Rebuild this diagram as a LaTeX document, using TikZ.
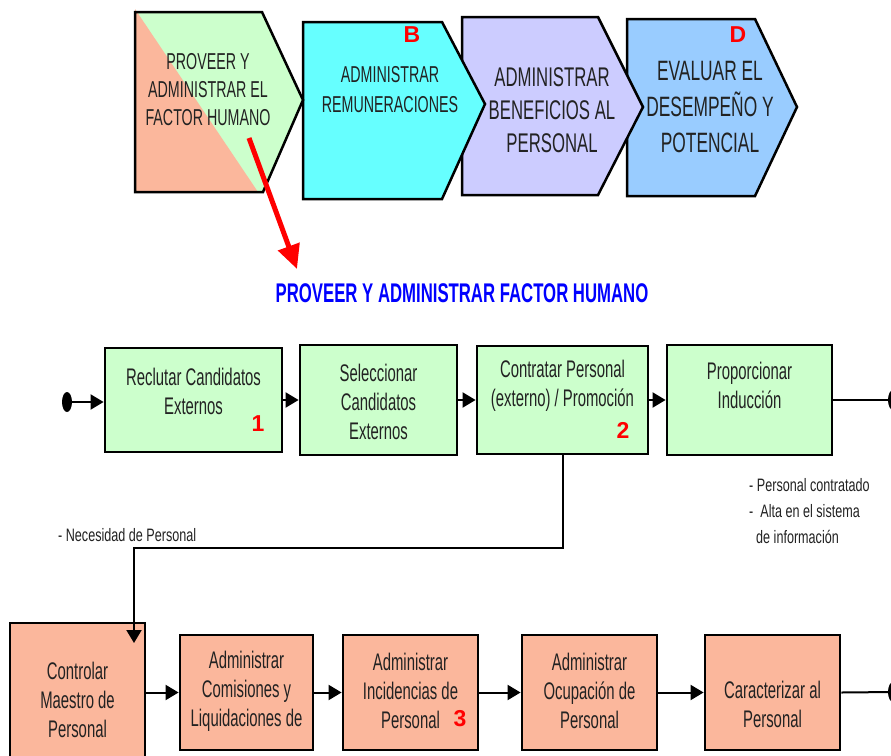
\documentclass[tikz,border=0pt]{standalone}
\usepackage{fontspec}
\setmainfont{Liberation Sans}
\newfontfamily\nfont[FakeStretch=0.62]{Liberation Sans}
\newfontfamily\notefont[FakeStretch=0.7]{Liberation Sans}
\usetikzlibrary{arrows.meta,shapes.geometric}
\definecolor{paleGreen}{HTML}{CCFFCC}
\definecolor{salmon}{HTML}{FBB79C}
\definecolor{aqua}{HTML}{66FFFF}
\definecolor{lavender}{HTML}{CCCCFF}
\definecolor{skyBlue}{HTML}{99CCFF}
\definecolor{inkGray}{HTML}{222222}
\tikzset{
  chev/.style={draw=black, line width=2.5pt, line join=miter},
  proc/.style={draw=black, line width=2.8pt, rectangle, inner sep=0pt},
  greenbox/.style={proc, fill=paleGreen},
  orangebox/.style={proc, fill=salmon},
  boxtext/.style={align=center, text=inkGray, inner sep=0pt,
    font=\nfont\fontsize{24}{29}\selectfont},
  notetext/.style={align=left, text=inkGray, inner sep=0pt,
    font=\notefont\fontsize{18}{26}\selectfont},
  tag/.style={text=red, inner sep=0pt, font=\bfseries\fontsize{23}{23}\selectfont},
  flow/.style={draw=black, line width=2pt, -{Triangle[length=13pt,width=15pt]}},
  plainflow/.style={draw=black, line width=2pt},
  terminal/.style={ellipse, fill=black, minimum width=10pt, minimum height=20pt, inner sep=0pt}
}
\begin{document}
\begin{tikzpicture}[x=1pt,y=-1pt]
\useasboundingbox (0,0) rectangle (891,755);
\fill[white] (0,0) rectangle (891,755);

% ---- value chain chevrons (drawn back to front) ----
\filldraw[chev, fill=skyBlue] (627,19) -- (755,19) -- (797,107) -- (755,196) -- (627,196) -- cycle;
\filldraw[chev, fill=lavender] (462,17) -- (598,17) -- (643,107) -- (598,195) -- (462,195) -- cycle;
\filldraw[chev, fill=aqua] (303,22) -- (442,22) -- (485,104) -- (442,199) -- (303,199) -- cycle;
\fill[paleGreen] (135,12) -- (262,12) -- (303,100) -- (263,192) -- (135,192) -- cycle;
\fill[salmon] (135,9) -- (258,192) -- (135,192) -- cycle;
\draw[chev] (135,12) -- (262,12) -- (303,100) -- (263,192) -- (135,192) -- cycle;

\node[boxtext, font=\nfont\fontsize{23}{28}\selectfont] (cA) at (208,90)
  {PROVEER Y\\ADMINISTRAR EL\\FACTOR HUMANO};
\node[boxtext, font=\nfont\fontsize{23}{30}\selectfont] (cB) at (390,90)
  {ADMINISTRAR\\REMUNERACIONES};
\node[boxtext, font=\nfont\fontsize{27}{33}\selectfont] (cC) at (552,110)
  {ADMINISTRAR\\BENEFICIOS AL\\PERSONAL};
\node[boxtext, font=\nfont\fontsize{28}{36}\selectfont] (cD) at (710,107.5)
  {EVALUAR EL\\DESEMPEÑO Y\\POTENCIAL};
\node[tag] (tagB) at (412,35) {B};
\node[tag] (tagD) at (738,35) {D};

% ---- zoom arrow and section title ----
\node[text=blue, inner sep=0pt, font=\nfont\bfseries\fontsize{27}{30}\selectfont]
  (title) at (462,293) {PROVEER Y ADMINISTRAR FACTOR HUMANO};
\coordinate (zoomFrom) at (249,138);
\coordinate (zoomTo) at (297,269);
\draw[red, line width=5pt, -{Triangle[length=24pt,width=22pt]}] (zoomFrom) -- (zoomTo);

% ---- hiring process ----
\node[greenbox, minimum width=177pt, minimum height=104pt] (b1) at (193.5,400) {};
\node[greenbox, minimum width=157pt, minimum height=110pt] (b2) at (378.5,400) {};
\node[greenbox, minimum width=171pt, minimum height=108pt] (b3) at (562.5,400) {};
\node[greenbox, minimum width=165pt, minimum height=110pt] (b4) at (749.5,400) {};
\node[boxtext] (t1) at (193.5,391.5) {Reclutar Candidatos\\Externos};
\node[boxtext] (t2) at (378.5,402) {Seleccionar\\Candidatos\\Externos};
\node[boxtext] (t3) at (562.5,386) {Contratar Personal\\(externo) / Promoción};
\node[boxtext] (t4) at (749.5,385.5) {Proporcionar\\Inducción};
\node[tag] (n1) at (258,424) {1};
\node[tag] (n2) at (623,430) {2};

\node[terminal] (start) at (67,402) {};
\node[terminal] (end1) at (893,400) {};
\draw[flow] (start) -- (b1.west |- start);
\draw[flow] (b1.east) -- (b2.west);
\draw[flow] (b2.east) -- (b3.west);
\draw[flow] (b3.east) -- (b4.west);
\draw[plainflow] (b4.east) -- (end1);

% ---- notes ----
\node[notetext, anchor=west] (need) at (58,535) {- Necesidad de Personal};
\node[notetext, anchor=north west] (hired) at (749,478)
  {- Personal contratado\\-\ \ Alta en el sistema\\\hspace{7pt}de información};

% ---- personnel administration process ----
\node[orangebox, minimum width=135pt, minimum height=150pt] (b5) at (77.5,698) {};
\node[orangebox, minimum width=133pt, minimum height=115pt] (b6) at (246.5,692.5) {};
\node[orangebox, minimum width=135pt, minimum height=115pt] (b7) at (410.5,692.5) {};
\node[orangebox, minimum width=135pt, minimum height=115pt] (b8) at (589.5,692.5) {};
\node[orangebox, minimum width=135pt, minimum height=115pt] (b9) at (772.5,692.5) {};
\node[boxtext] (t5) at (77.5,700) {Controlar\\Maestro de\\Personal};
\node[boxtext] (t6) at (246.5,691) {Administrar\\Comisiones y\\Liquidaciones de};
\node[boxtext] (t7) at (410.5,691) {Administrar\\Incidencias de\\Personal};
\node[boxtext] (t8) at (589.5,691) {Administrar\\Ocupación de\\Personal};
\node[boxtext] (t9) at (772.5,704) {Caracterizar al\\Personal};
\node[tag] (n3) at (460,719) {3};

\node[terminal] (end2) at (893,692) {};
\draw[flow] (b5.east |- b6.west) -- (b6.west);
\draw[flow] (b6.east) -- (b7.west);
\draw[flow] (b7.east) -- (b8.west);
\draw[flow] (b8.east) -- (b9.west);
\draw[plainflow] (b9.east) -- (end2);

% ---- link from hiring to personnel master ----
\coordinate (bend) at (134,548);
\coordinate (into) at (134,643);
\draw[flow] (b3.south) |- (bend) -- (into);
\end{tikzpicture}
\end{document}
